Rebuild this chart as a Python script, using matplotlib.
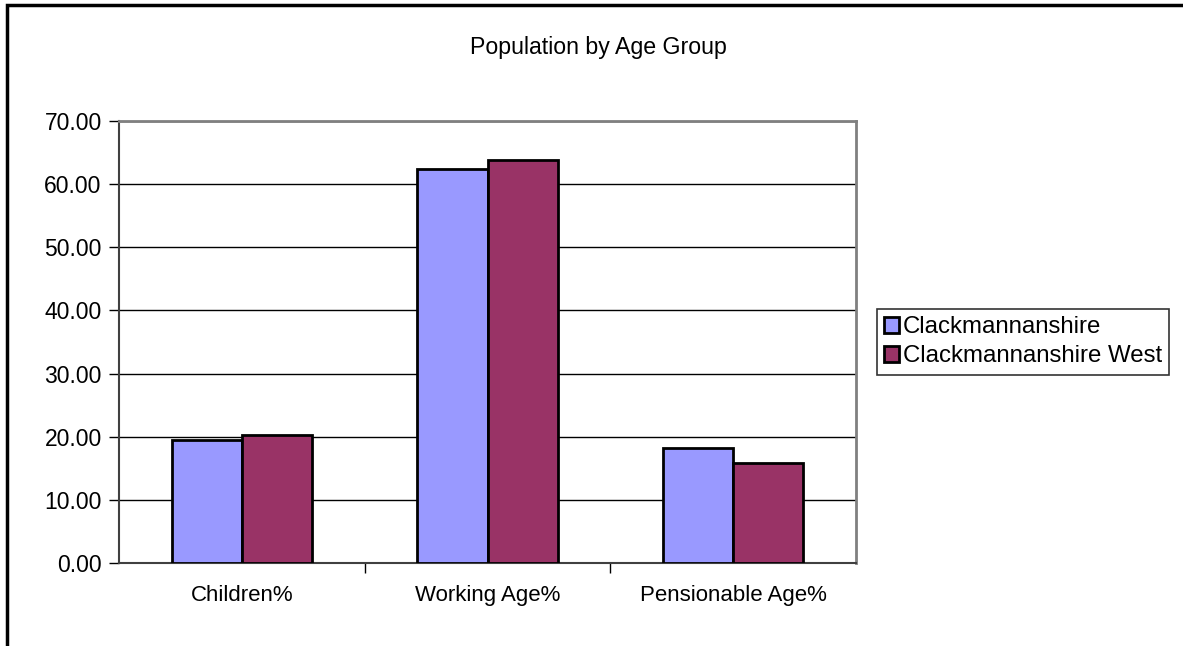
import numpy as np
import matplotlib
matplotlib.use("Agg")
import matplotlib.pyplot as plt
from matplotlib.patches import Rectangle

plt.rcParams['font.family'] = ['Liberation Sans', 'DejaVu Sans']

# data
categories = ['Children%', 'Working Age%', 'Pensionable Age%']
series_names = ['Clackmannanshire', 'Clackmannanshire West']
clacks = [19.43, 62.35, 18.17]
clacks_west = [20.22, 63.80, 15.84]
colors = ['#9999FF', '#993366']
yticks = np.arange(0, 71, 10)

fig = plt.figure(figsize=(11.83, 6.46), dpi=100)
ax = fig.add_axes([0.1006, 0.1285, 0.6230, 0.6842])

x = np.arange(len(categories))
w = 0.285
ax.bar(x - w/2, clacks, w, color=colors[0], edgecolor='black', linewidth=2,
       label=series_names[0], zorder=3)
ax.bar(x + w/2, clacks_west, w, color=colors[1], edgecolor='black', linewidth=2,
       label=series_names[1], zorder=3)

ax.set_xlim(-0.5, 2.5)
ax.set_ylim(0, 70)
ax.set_yticks(yticks)
ax.set_yticklabels([f'{v:.2f}' for v in yticks])
ax.yaxis.grid(True, color='black', linewidth=1)
ax.set_axisbelow(True)

# category labels centred, ticks on category boundaries
ax.set_xticks([0.5, 1.5])
ax.set_xticklabels([])
ax.set_xticks(x, minor=True)
ax.set_xticklabels(categories, minor=True)
ax.tick_params(axis='x', which='minor', length=0, pad=16, labelsize=16)
ax.tick_params(axis='x', which='major', direction='out', length=7, width=1)
ax.tick_params(axis='y', direction='out', length=7, width=1, labelsize=16.5, pad=5.5)

for s in ['top', 'right']:
    ax.spines[s].set_color('#808080')
    ax.spines[s].set_linewidth(2)
for s in ['left', 'bottom']:
    ax.spines[s].set_color('#404040')
    ax.spines[s].set_linewidth(1.5)

fig.text(0.5055, 0.926, 'Population by Age Group', ha='center', va='center', fontsize=16.7)

leg = fig.legend(loc='center left', bbox_to_anchor=(0.741, 0.471), fontsize=17.3,
                 frameon=True, fancybox=False, edgecolor='black',
                 handlelength=0.65, handleheight=0.65, handletextpad=0.15,
                 labelspacing=0.3, borderpad=0.3, borderaxespad=0)
leg.get_frame().set_linewidth(1.2)

# outer chart border, running off the right and bottom edges
fig.patches.append(Rectangle((7/1183, -0.05), 1.2, 1 - 5/646 + 0.05,
                             transform=fig.transFigure, fill=False,
                             edgecolor='black', linewidth=2.5))

fig.savefig('out.png', dpi=100)
